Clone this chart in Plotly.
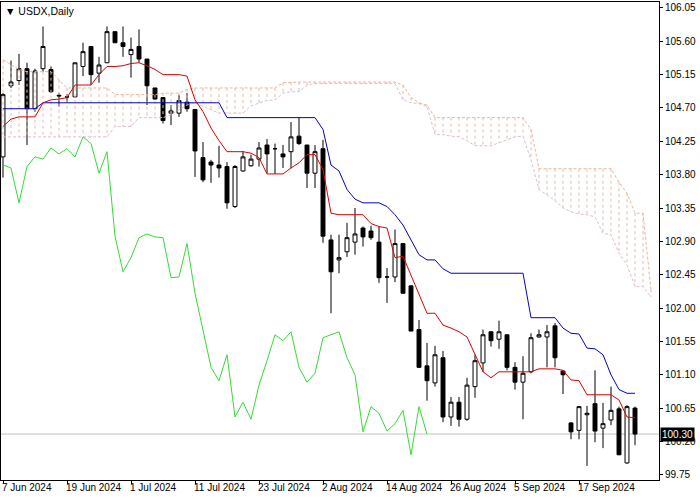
import plotly.graph_objects as go

# ---- data (USDX daily, bar index 0 = 7 Jun 2024) ----
opens = [104.04,105.00,105.07,105.23,104.69,105.23,105.22,104.86,104.85,104.85,
         105.26,105.53,105.17,105.31,105.73,105.58,105.42,105.53,105.36,104.97,
         104.84,104.63,104.63,104.78,104.68,104.03,103.97,103.93,103.91,103.37,
         103.85,103.92,104.01,104.20,104.15,104.08,104.11,104.32,104.20,103.82,
         104.15,102.92,102.65,102.76,102.89,103.08,103.04,102.89,102.42,102.42,
         102.87,102.30,101.71,101.22,100.99,101.33,100.53,100.73,100.50,100.94,
         101.26,101.68,101.58,101.64,101.20,101.00,101.14,101.61,101.61,101.76,
         101.15,100.45,100.35,100.56,100.71,100.38,100.49,100.64,99.91,100.65]
highs = [104.90,105.34,105.43,105.31,105.23,105.80,105.26,104.90,104.89,105.31,
         105.58,105.53,105.39,105.80,105.73,105.80,105.65,105.76,105.36,104.97,
         104.84,104.74,104.88,104.90,104.68,104.24,104.00,104.19,103.97,103.93,
         104.12,104.07,104.24,104.28,104.22,104.20,104.51,104.57,104.20,104.20,
         104.27,102.99,102.99,103.15,103.35,103.10,103.11,103.10,102.54,103.06,
         102.87,102.30,101.84,101.53,101.49,101.42,100.80,100.80,101.06,101.37,
         101.71,101.68,101.83,101.64,101.27,101.35,101.66,101.71,101.77,101.80,
         101.16,100.46,100.67,100.68,101.16,100.72,100.94,100.67,100.69,100.67]
lows = [103.76,104.97,105.01,104.20,104.65,105.19,104.90,104.72,104.78,104.85,
        105.13,105.01,105.04,105.31,105.58,105.39,105.11,105.31,104.74,104.82,
        104.49,104.47,104.58,104.65,103.77,103.70,103.69,103.76,103.34,103.35,
        103.84,103.91,103.91,103.82,103.81,103.89,103.89,104.20,103.62,103.62,
        102.88,101.93,102.47,102.69,102.72,102.83,102.92,102.34,102.07,102.35,
        102.20,101.69,101.20,100.75,100.94,100.46,100.41,100.40,100.48,100.79,
        101.14,101.48,101.45,101.16,100.90,100.50,101.12,101.60,101.20,101.20,
        100.84,100.23,100.23,99.87,100.19,100.11,100.42,100.02,99.90,100.15]
closes = [104.88,105.05,105.23,104.69,105.20,105.53,104.92,104.87,104.85,105.31,
          105.46,105.15,105.28,105.73,105.58,105.53,105.49,105.36,105.00,104.82,
          104.53,104.66,104.80,104.69,104.12,103.73,103.93,103.89,103.42,103.91,
          104.04,104.01,104.16,104.08,104.15,104.04,104.31,104.22,103.82,104.11,
          102.97,102.49,102.68,102.95,103.00,102.96,102.95,102.41,102.42,102.87,
          102.20,101.69,101.20,101.02,101.37,100.53,100.73,100.50,100.96,101.29,
          101.64,101.56,101.68,101.20,101.00,101.12,101.60,101.64,101.68,101.33,
          101.10,100.33,100.67,100.58,100.34,100.44,100.62,100.02,100.67,100.30]
tenkan = [104.45,104.55,104.58,104.58,104.58,104.77,104.81,104.82,104.84,105.01,
          105.01,105.01,105.15,105.26,105.26,105.27,105.30,105.31,105.27,105.22,
          105.15,105.15,105.15,105.13,104.81,104.65,104.43,104.26,104.11,104.11,
          104.11,104.09,104.03,103.81,103.81,103.81,103.89,103.96,104.07,104.07,
          103.87,103.28,103.26,103.26,103.26,103.26,103.14,103.10,103.08,102.68,
          102.70,102.45,102.18,101.93,101.93,101.77,101.73,101.68,101.61,101.37,
          101.14,101.06,101.14,101.14,101.14,101.14,101.14,101.18,101.18,101.18,
          101.16,101.03,101.02,100.83,100.83,100.83,100.83,100.76,100.53,100.52]
kijun = [104.69]*5 + [104.77]*23 + [104.57]*12 + \
        [104.41,103.93,103.85,103.60,103.47,103.42,103.42,103.42,103.37,103.26,
         103.12,102.92,102.72,102.65,102.65,102.53] + [102.47]*10 + [101.87]*4 + \
        [101.73,101.66,101.65,101.46,101.45,101.37,101.10,100.90,100.85,100.85]
span_upper = [105.35,105.28,105.22,105.19,105.19,105.19,105.19,105.08,104.97,104.97,
              104.97,104.97,104.97,104.97,104.88,104.88,104.88,104.88,104.88,104.88,
              104.90,104.90,104.90,104.95,104.97,104.97,104.97,104.97,104.97,104.97,
              104.97,104.97,104.97,104.97,104.97,105.04,105.05,105.05,105.05,105.05] + \
             [105.05]*10 + [105.01,104.84,104.77,104.74] + [104.57]*12 + [104.41] + \
             [103.88]*10 + [103.70,103.55,103.28,103.28,102.25]
span_lower = [104.31]*14 + [104.45]*3 + [104.57]*4 + \
             [104.61,104.68,104.74,104.77,104.72,104.68,104.63,104.63,104.63,104.63,
              104.73,104.77,104.80,104.81,104.90,104.92,104.92,105.01] + [105.03]*11 + \
             [104.81,104.77,104.76,104.72,104.34,104.34,104.32,104.31,104.26,104.19,
              104.19,104.19,104.23,104.27,104.31,104.32,104.00,103.60,103.53,103.45,
              103.35,103.30,103.27,103.26,103.23,103.01,102.99,102.74,102.58,102.29,
              102.29,102.15]
date_ticks = [0, 8, 16, 24, 32, 40, 48, 56, 64, 72]
date_labels = ["7 Jun 2024", "19 Jun 2024", "1 Jul 2024", "11 Jul 2024", "23 Jul 2024",
               "2 Aug 2024", "14 Aug 2024", "26 Aug 2024", "5 Sep 2024", "17 Sep 2024"]
price_ticks = [99.75, 100.20, 100.65, 101.10, 101.55, 102.00, 102.45, 102.90, 103.35,
               103.80, 104.25, 104.70, 105.15, 105.60, 106.05]
chikou_shift = 26
last_price = closes[-1]

n = len(closes)
xs = list(range(n))
fig = go.Figure()

# cloud hatch
hx, hy = [], []
for i, (a, b) in enumerate(zip(span_upper, span_lower)):
    hx += [i, i, None]
    hy += [a, b, None]
fig.add_trace(go.Scatter(x=hx, y=hy, mode="lines",
                         line=dict(color="#eab9a6", width=1, dash="3px,3px"), hoverinfo="skip"))
fig.add_trace(go.Scatter(x=list(range(len(span_upper))), y=span_upper, mode="lines",
                         line=dict(color="#eeb49a", width=1, dash="3px,2px")))
fig.add_trace(go.Scatter(x=list(range(len(span_lower))), y=span_lower, mode="lines",
                         line=dict(color="#d9bfd6", width=1, dash="3px,2px")))

# chikou
fig.add_trace(go.Scatter(x=[i - chikou_shift for i in xs[chikou_shift:]], y=closes[chikou_shift:],
                         mode="lines", line=dict(color="#33dd33", width=1)))
# kijun, tenkan
fig.add_trace(go.Scatter(x=xs, y=kijun, mode="lines", line=dict(color="#0000cd", width=1)))
fig.add_trace(go.Scatter(x=xs, y=tenkan, mode="lines", line=dict(color="#e00000", width=1)))

fig.add_trace(go.Candlestick(
    x=xs, open=opens, high=highs, low=lows, close=closes,
    increasing=dict(line=dict(color="black", width=1), fillcolor="white"),
    decreasing=dict(line=dict(color="black", width=1), fillcolor="black"),
    whiskerwidth=0))

fig.add_hline(y=last_price, line=dict(color="#c0c0c0", width=1), layer="below")

annotations = [dict(x=t, y=0, xref="x", yref="paper", yanchor="top", xanchor="left",
                    text=l, showarrow=False, yshift=0, xshift=-3,
                    font=dict(size=10, color="black", family="Liberation Sans"))
               for t, l in zip(date_ticks, date_labels)]
annotations.append(dict(x=0, y=1, xref="paper", yref="paper", xanchor="left", yanchor="top",
                        text="▼ USDX,Daily", showarrow=False, xshift=2, yshift=-1,
                        font=dict(size=10.5, color="black", family="Liberation Sans")))
annotations.append(dict(x=1, y=last_price, xref="paper", yref="y", xanchor="left",
                        text=f"{last_price:.2f}", showarrow=False, xshift=1, bgcolor="black",
                        borderpad=1, font=dict(size=10, color="white", family="Liberation Sans")))

fig.update_layout(
    width=700, height=500, showlegend=False,
    paper_bgcolor="white", plot_bgcolor="white",
    margin=dict(l=1, r=41, t=2, b=20, autoexpand=False),
    annotations=annotations,
    xaxis=dict(range=[-0.25, 82.0], tickvals=date_ticks, showticklabels=False,
               ticks="outside", ticklen=3, tickcolor="black", showgrid=False, automargin=False,
               zeroline=False, showline=True, linecolor="black", mirror=True,
               rangeslider=dict(visible=False)),
    yaxis=dict(range=[99.68, 106.13], side="right", tickvals=price_ticks,
               ticktext=[f"{v:.2f}" for v in price_ticks], automargin=False,
               ticks="outside", ticklen=3, tickcolor="black", showgrid=False,
               zeroline=False, showline=True, linecolor="black", mirror=True,
               tickfont=dict(size=10, color="black", family="Liberation Sans")),
)
fig.write_html("out.html", config={"displayModeBar": False},
               post_script="document.body.style.margin='0';document.body.style.overflow='hidden';")
